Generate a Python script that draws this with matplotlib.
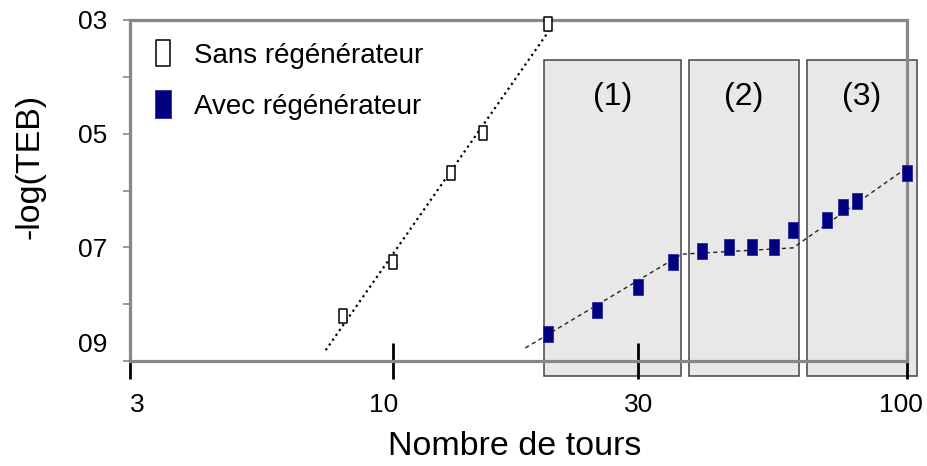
import numpy as np
import matplotlib
matplotlib.use("Agg")
import matplotlib.pyplot as plt
from matplotlib.path import Path
from matplotlib.patches import Rectangle
from matplotlib.ticker import FixedLocator, NullLocator
from matplotlib.transforms import ScaledTranslation

plt.rcParams['font.family'] = ['Liberation Sans', 'DejaVu Sans']

# data
sans_tours = [8, 10, 13, 15, 20]
sans_teb = [8.20, 7.26, 5.69, 4.98, 3.07]

avec_tours = [20, 25, 30, 35, 40, 45, 50, 55, 60, 70, 75, 80, 100]
avec_teb = [8.53, 8.10, 7.69, 7.26, 7.07, 6.99, 6.99, 6.99, 6.70, 6.52, 6.29, 6.19, 5.69]

# hand-drawn trend for "avec" (knots)
avec_trend_x = [18.1, 36.5, 60, 100]
avec_trend_y = [8.77, 7.12, 7.01, 5.60]
sans_fit_range = (7.4, 20.1)

zone_names = ["(1)", "(2)", "(3)"]
zone_left = [19.7, 37.7, 63.9]
zone_right = [36.3, 61.6, 104.6]
zone_top, zone_bottom = 3.7, 9.26

x_left = 3.08  # the axis starts just about at 3
x_ticks = [x_left, 10, 30, 100]
x_ticklabels = ["3", "10", "30", "100"]
y_ticks = [3, 5, 7, 9]
y_ticklabels = ["03", "05", "07", "09"]

# tall rectangle marker
def rect_marker(w):
    return Path([(-w / 2, -0.5), (w / 2, -0.5), (w / 2, 0.5), (-w / 2, 0.5), (-w / 2, -0.5)],
                [Path.MOVETO, Path.LINETO, Path.LINETO, Path.LINETO, Path.CLOSEPOLY])

fig = plt.figure(figsize=(9.27, 4.66), dpi=100)
ax = fig.add_axes([0.1402, 0.2253, 0.8382, 0.7318])

ax.set_xscale('log')
ax.set_xlim(x_left, 100)
ax.set_ylim(9, 3)

# zones
for name, x0, x1 in zip(zone_names, zone_left, zone_right):
    ax.add_patch(Rectangle((x0, zone_top), x1 - x0, zone_bottom - zone_top,
                           facecolor='#e8e8e8', edgecolor='#444444', lw=1.1,
                           clip_on=False, zorder=1))
    ax.text(np.sqrt(x0 * x1), 4.36, name, ha='center', va='center', fontsize=23)

# sans: fit line in log space
coef = np.polyfit(np.log10(sans_tours), sans_teb, 1)
xf = np.array(sans_fit_range)
ax.plot(xf, np.polyval(coef, np.log10(xf)), color='black', ls=':', lw=1.6,
        clip_on=False, zorder=2)
ax.plot(avec_trend_x, avec_trend_y, color='#222222', lw=1.0, dashes=(3, 2.5),
        clip_on=False, zorder=2)

ax.plot(sans_tours, sans_teb, ls='none', marker=rect_marker(0.57), ms=10,
        mfc='white', mec='black', mew=1.1, clip_on=False, zorder=3,
        label='Sans régénérateur')
ax.plot(avec_tours, avec_teb, ls='none', marker=rect_marker(0.6), ms=11,
        mfc='#000080', mec='#2a2a9a', mew=0.6, clip_on=False, zorder=3,
        label='Avec régénérateur')

leg = ax.legend(loc='upper left', bbox_to_anchor=(0.0, 0.99), frameon=False,
                fontsize=20, markerscale=1.85, handlelength=1.0,
                handletextpad=0.6, labelspacing=0.9, borderaxespad=0.3)

# spines
for s in ax.spines.values():
    s.set_color('#888888')
    s.set_linewidth(2.3)

ax.xaxis.set_major_locator(FixedLocator(x_ticks))
ax.xaxis.set_minor_locator(NullLocator())
ax.set_xticklabels(x_ticklabels)
ax.tick_params(axis='x', which='major', direction='inout', length=26, width=2,
               color='black', labelsize=19, pad=10)

ax.yaxis.set_major_locator(FixedLocator(y_ticks))
ax.yaxis.set_minor_locator(FixedLocator([4, 6, 8]))
ax.set_yticklabels(y_ticklabels)
ax.tick_params(axis='y', which='both', direction='out', length=5, width=1.2,
               color='#888888', labelsize=19, pad=11)

# small nudges of some tick labels, as in the original
for lab, dx in zip(ax.get_xticklabels(), [7, -9, 0, -6]):
    lab.set_transform(lab.get_transform() + ScaledTranslation(dx / 100, 0, fig.dpi_scale_trans))
lab09 = ax.get_yticklabels()[-1]
lab09.set_transform(lab09.get_transform() + ScaledTranslation(0, 0.19, fig.dpi_scale_trans))

ax.set_xlabel('Nombre de tours', fontsize=24.5, va='center')
ax.xaxis.set_label_coords(0.4955, -0.252)
ax.set_ylabel('-log(TEB)', fontsize=24.5, va='center')
ax.yaxis.set_label_coords(-0.129, 0.572)

fig.savefig('out.png', dpi=100)
